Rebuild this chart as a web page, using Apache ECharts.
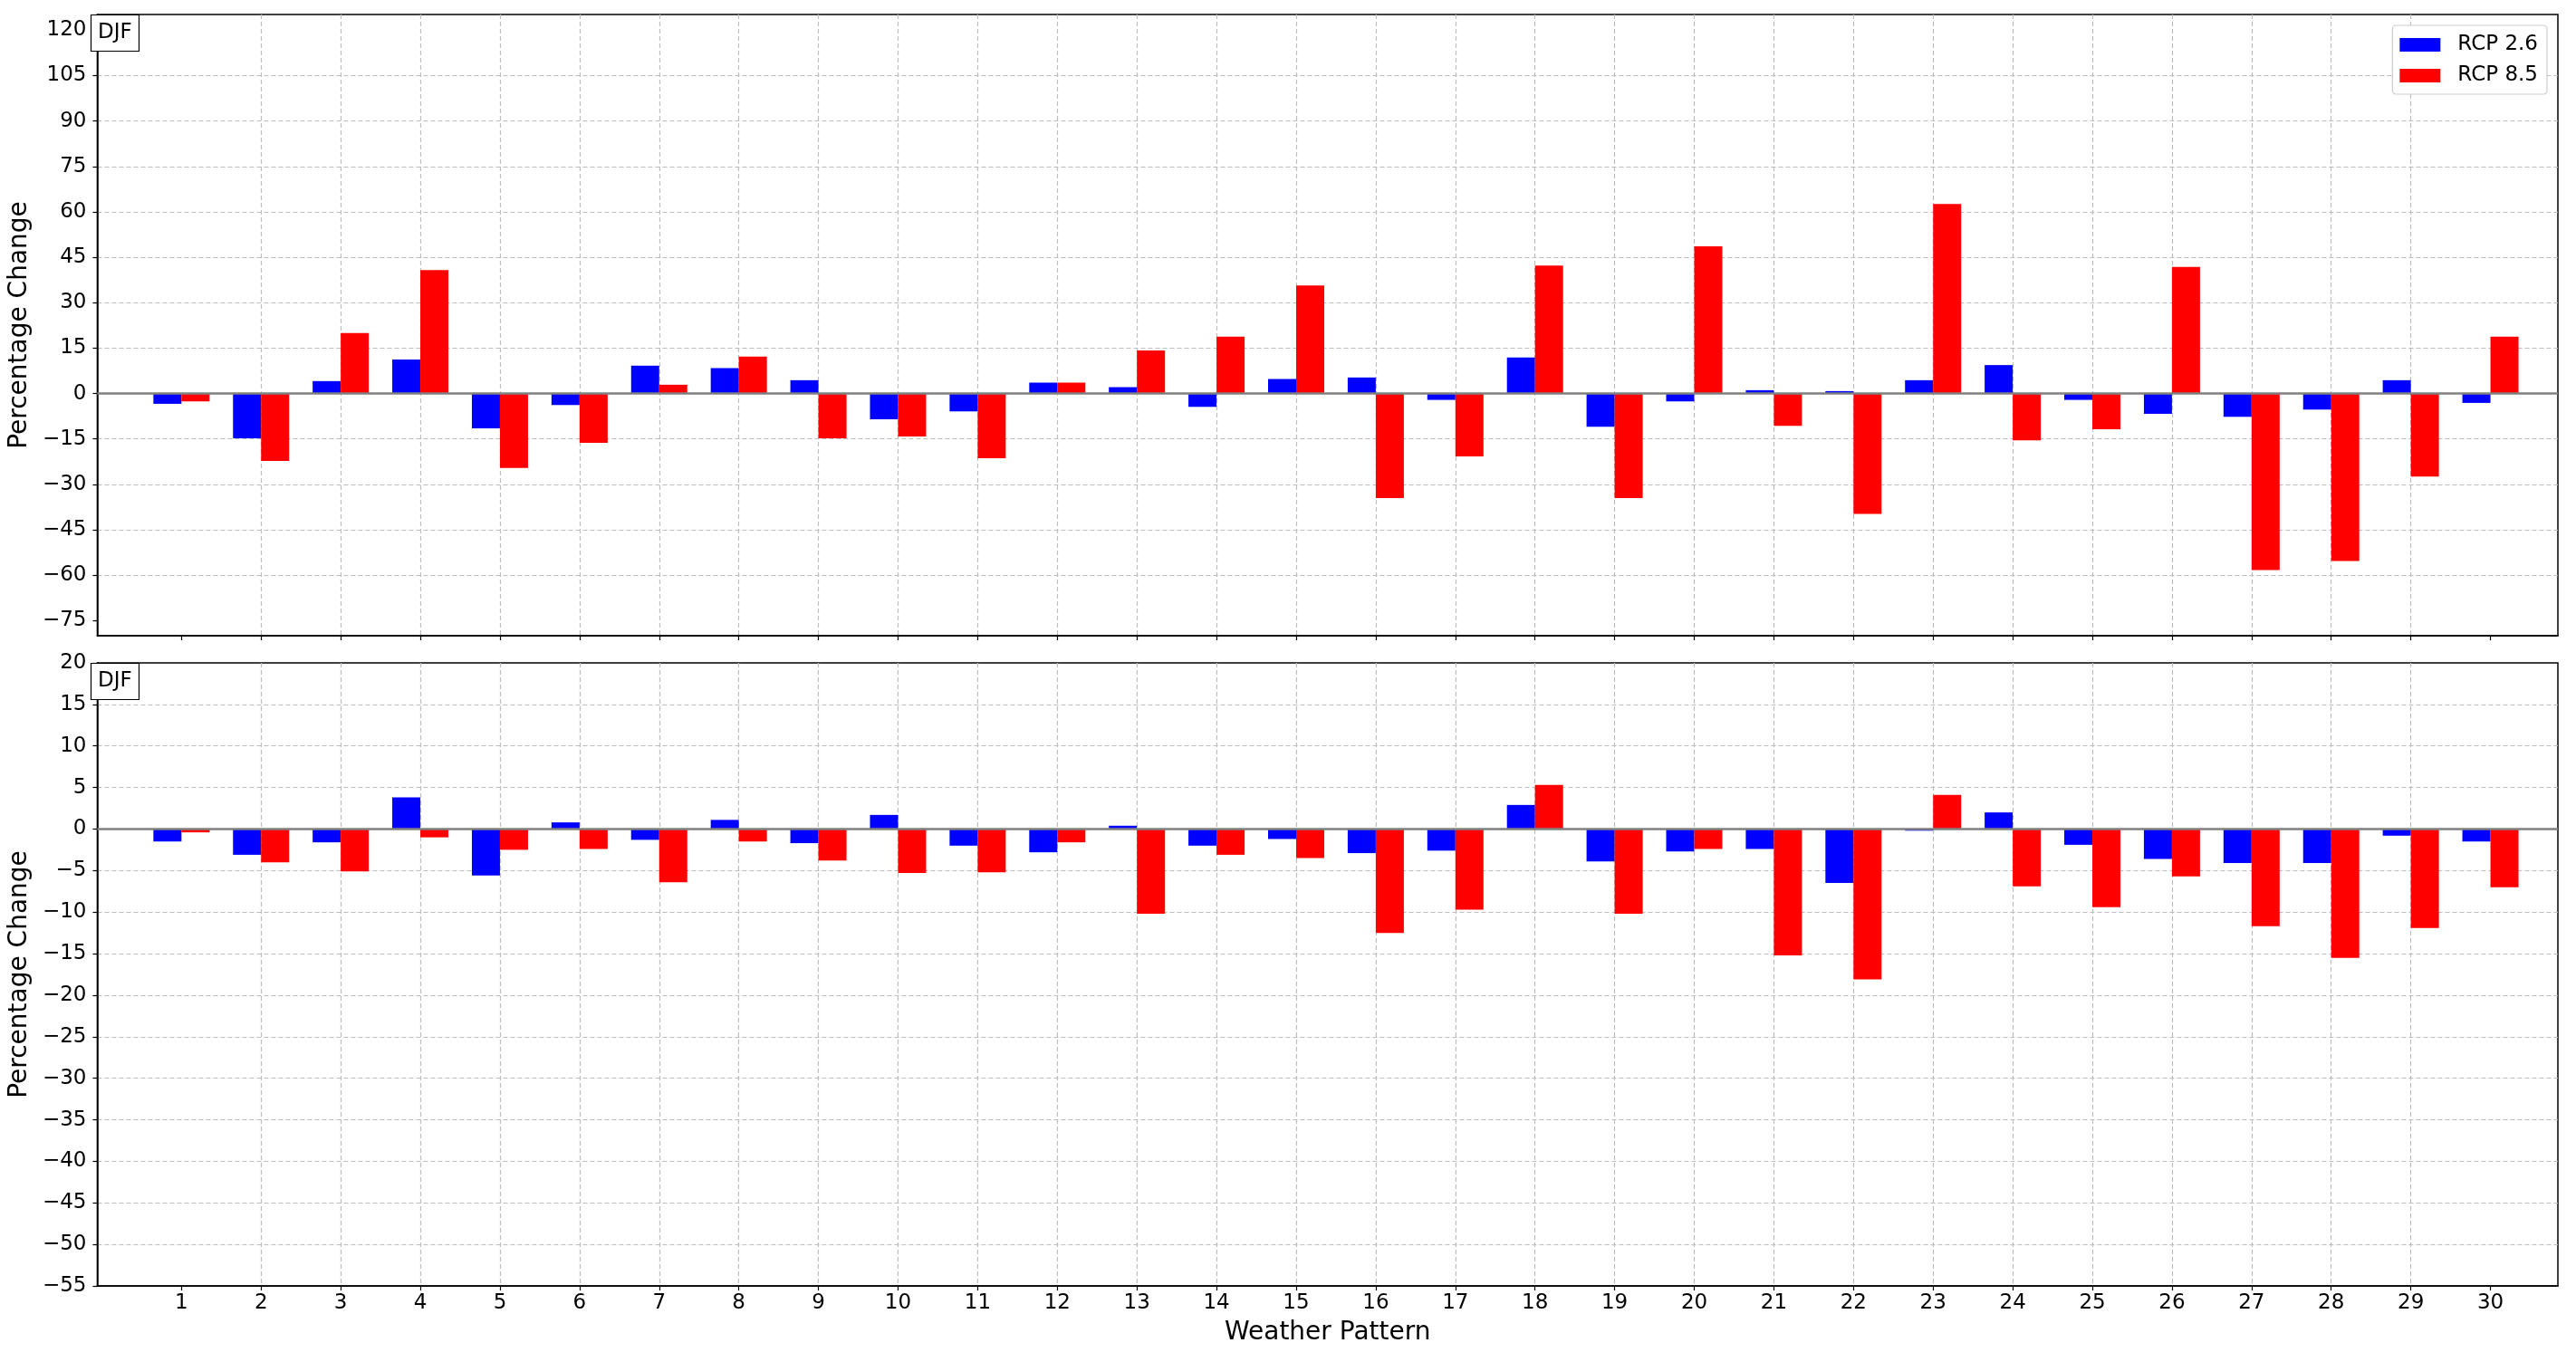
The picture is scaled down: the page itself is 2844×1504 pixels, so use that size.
<!DOCTYPE html>
<html>
<head>
<meta charset="utf-8">
<title>DJF percentage change</title>
<script src="https://cdn.jsdelivr.net/npm/echarts@6/dist/echarts.min.js"></script>
<style>
  html, body { margin: 0; padding: 0; background: #fff; }
  #main { width: 2844px; height: 1504px; }
</style>
</head>
<body>
<div id="main"></div>
<script>
// weather patterns (x ticks)
const patterns = [1, 2, 3, 4, 5, 6, 7, 8, 9, 10, 11, 12, 13, 14, 15,
  16, 17, 18, 19, 20, 21, 22, 23, 24, 25, 26, 27, 28, 29, 30];

// upper panel
const rcp26Top = [-3.4, -14.8, 4.1, 11.2, -11.5, -3.8, 9.2, 8.4, 4.4, -8.5,
  -5.9, 3.6, 2.1, -4.4, 4.8, 5.3, -2.1, 11.9, -11.0, -2.6,
  1.1, 0.8, 4.4, 9.4, -2.1, -6.7, -7.7, -5.3, 4.4, -3.1];
const rcp85Top = [-2.6, -22.3, 20.0, 40.8, -24.6, -16.3, 2.9, 12.2, -14.8, -14.2,
  -21.4, 3.6, 14.2, 18.8, 35.7, -34.5, -20.8, 42.3, -34.5, 48.6,
  -10.7, -39.8, 62.6, -15.5, -11.8, 41.8, -58.3, -55.3, -27.4, 18.8];

// lower panel
const rcp26Bottom = [-1.5, -3.1, -1.6, 3.8, -5.6, 0.8, -1.3, 1.1, -1.7, 1.7,
  -2.0, -2.8, 0.4, -2.0, -1.2, -2.9, -2.6, 2.9, -3.9, -2.7,
  -2.4, -6.5, -0.2, 2.0, -1.9, -3.6, -4.1, -4.1, -0.8, -1.5];
const rcp85Bottom = [-0.4, -4.0, -5.1, -1.0, -2.5, -2.4, -6.4, -1.5, -3.8, -5.3,
  -5.2, -1.6, -10.2, -3.1, -3.5, -12.5, -9.7, 5.3, -10.2, -2.4,
  -15.2, -18.1, 4.1, -6.9, -9.4, -5.7, -11.7, -15.5, -11.9, -7.0];

// y tick labels
const yTicksTop = [-75, -60, -45, -30, -15, 0, 15, 30, 45, 60, 75, 90, 105, 120];
const yTicksBottom = [-55, -50, -45, -40, -35, -30, -25, -20, -15, -10, -5, 0, 5, 10, 15, 20];

const seriesNames = ['RCP 2.6', 'RCP 8.5'];
const colors = ['#0000ff', '#ff0000'];

const FONT = 'DejaVu Sans';
const X_MIN = -0.057, X_MAX = 30.847;
const BAR_W = 31; // 0.35 of a pattern step

const gridLine = {
  show: true, showMinLine: false, showMaxLine: false,
  lineStyle: { color: '#bdbdbd', type: [5, 3], width: 1.2 }
};
const frameLine = { show: true, onZero: false, lineStyle: { color: '#000', width: 1.5 } };
const minus = v => String(v).replace('-', '\u2212');

function makeX(idx, withLabels) {
  return {
    type: 'value', gridIndex: idx, min: X_MIN, max: X_MAX,
    axisLine: frameLine,
    axisTick: { show: true, customValues: patterns, length: 5, lineStyle: { color: '#000', width: 1.2 } },
    axisLabel: { show: withLabels, customValues: patterns, margin: 8, fontSize: 23, color: '#000', fontFamily: FONT },
    splitLine: gridLine,
    name: withLabels ? 'Weather Pattern' : '',
    nameLocation: 'middle', nameGap: 38,
    nameTextStyle: { fontSize: 28, color: '#000', fontFamily: FONT }
  };
}

function makeY(idx, ticks, min, max) {
  return {
    type: 'value', gridIndex: idx, min: min, max: max,
    axisLine: frameLine,
    axisTick: { show: true, customValues: ticks, length: 5, lineStyle: { color: '#000', width: 1.2 } },
    axisLabel: { customValues: ticks, formatter: minus, margin: 12, fontSize: 23, color: '#000', fontFamily: FONT },
    splitLine: gridLine,
    name: 'Percentage Change', nameLocation: 'middle', nameGap: 64, nameRotate: 90,
    nameTextStyle: { fontSize: 28, color: '#000', fontFamily: FONT }
  };
}

function makeBar(name, color, idx, values, zeroLine) {
  const s = {
    name: name, type: 'bar', xAxisIndex: idx, yAxisIndex: idx,
    barWidth: BAR_W, barGap: '0%',
    itemStyle: { color: color },
    data: patterns.map((p, i) => [p, values[i]])
  };
  if (zeroLine) {
    s.markLine = {
      silent: true, symbol: 'none', label: { show: false },
      lineStyle: { color: '#808080', width: 2.5, type: 'solid' },
      data: [{ yAxis: 0 }]
    };
  }
  return s;
}

function djf(top) {
  return {
    text: 'DJF', left: 100, top: top, padding: [8, 8],
    borderColor: '#000', borderWidth: 1.2, backgroundColor: '#fff',
    textStyle: { fontSize: 23, lineHeight: 25, fontWeight: 'normal', color: '#000', fontFamily: FONT }
  };
}

const chart = echarts.init(document.getElementById('main'));
chart.setOption({
  animation: false,
  backgroundColor: '#fff',
  title: [djf(16), djf(732)],
  legend: {
    data: seriesNames, orient: 'vertical', right: 32, top: 28,
    padding: [10, 10, 9, 8], itemGap: 11, itemWidth: 45, itemHeight: 15, icon: 'rect',
    backgroundColor: '#fff', borderColor: '#cccccc', borderWidth: 1.2, borderRadius: 4,
    selectedMode: false,
    textStyle: { fontSize: 23, color: '#000', fontFamily: FONT, padding: [0, 0, 0, 14] }
  },
  grid: [
    { left: 100, right: 20, top: 16, height: 686, show: true, borderColor: '#000', borderWidth: 1.5, backgroundColor: 'transparent' },
    { left: 100, right: 20, top: 732, height: 688, show: true, borderColor: '#000', borderWidth: 1.5, backgroundColor: 'transparent' }
  ],
  xAxis: [makeX(0, false), makeX(1, true)],
  yAxis: [makeY(0, yTicksTop, -80, 125.2), makeY(1, yTicksBottom, -55, 20)],
  series: [
    makeBar(seriesNames[0], colors[0], 0, rcp26Top, false),
    makeBar(seriesNames[1], colors[1], 0, rcp85Top, true),
    makeBar(seriesNames[0], colors[0], 1, rcp26Bottom, false),
    makeBar(seriesNames[1], colors[1], 1, rcp85Bottom, true)
  ]
});
</script>
</body>
</html>
